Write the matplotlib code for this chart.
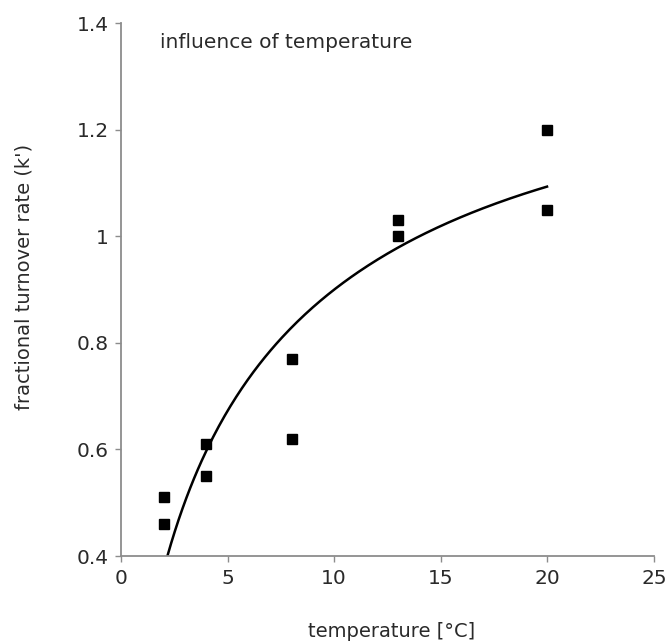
import numpy as np
import matplotlib.pyplot as plt

# measured data (temperature, k')
temp = [2, 2, 4, 4, 8, 8, 13, 13, 20, 20]
rate = [0.51, 0.46, 0.61, 0.55, 0.77, 0.62, 1.03, 1.00, 1.20, 1.05]

# fitted curve, points
curve_t = [2.17, 2.92, 4.02, 5.11, 6.05, 7.61, 8.40, 9.49, 9.96, 11.52,
           13.09, 14.65, 16.21, 17.78, 20.04]
curve_k = [0.400, 0.485, 0.610, 0.685, 0.733, 0.805, 0.840, 0.880, 0.900, 0.943,
           0.983, 1.018, 1.046, 1.066, 1.086]

xticks = [0, 5, 10, 15, 20, 25]
yticks = [0.4, 0.6, 0.8, 1.0, 1.2, 1.4]
ytick_labels = ['0.4', '0.6', '0.8', '1', '1.2', '1.4']

txt = '#2a2a2a'
axc = '#8c8c8c'

# smooth the read curve (it is a model fit in the original)
coef = np.polyfit(np.log(curve_t), curve_k, 3)
tt = np.linspace(curve_t[0], curve_t[-1], 200)
kk = np.polyval(coef, np.log(tt))

fig = plt.figure(figsize=(6.68, 6.41), dpi=100)
ax = fig.add_axes([0.1811, 0.1326, 0.7979, 0.8315])

ax.plot(tt, kk, color='black', lw=1.8, solid_capstyle='butt')
ax.plot(temp, rate, 's', color='black', ms=7, clip_on=False)

ax.set_xlim(0, 25)
ax.set_ylim(0.4, 1.4)
ax.set_xticks(xticks)
ax.set_yticks(yticks)
ax.set_yticklabels(ytick_labels)

for s in ['top', 'right']:
    ax.spines[s].set_visible(False)
for s in ['left', 'bottom']:
    ax.spines[s].set_color(axc)
    ax.spines[s].set_linewidth(1.3)

ax.tick_params(direction='out', length=4, width=1, color=axc,
               labelsize=14.5, labelcolor=txt, pad=5)

ax.set_xlabel('temperature [°C]', fontsize=14, color=txt)
ax.xaxis.set_label_coords(0.507, -0.124)
ax.set_ylabel("fractional turnover rate (k')", fontsize=14, color=txt)
ax.yaxis.set_label_coords(-0.165, 0.523)

ax.text(1.83, 1.364, 'influence of temperature', fontsize=14.5, color=txt,
        va='center', ha='left')

fig.savefig('out.png', dpi=100)
